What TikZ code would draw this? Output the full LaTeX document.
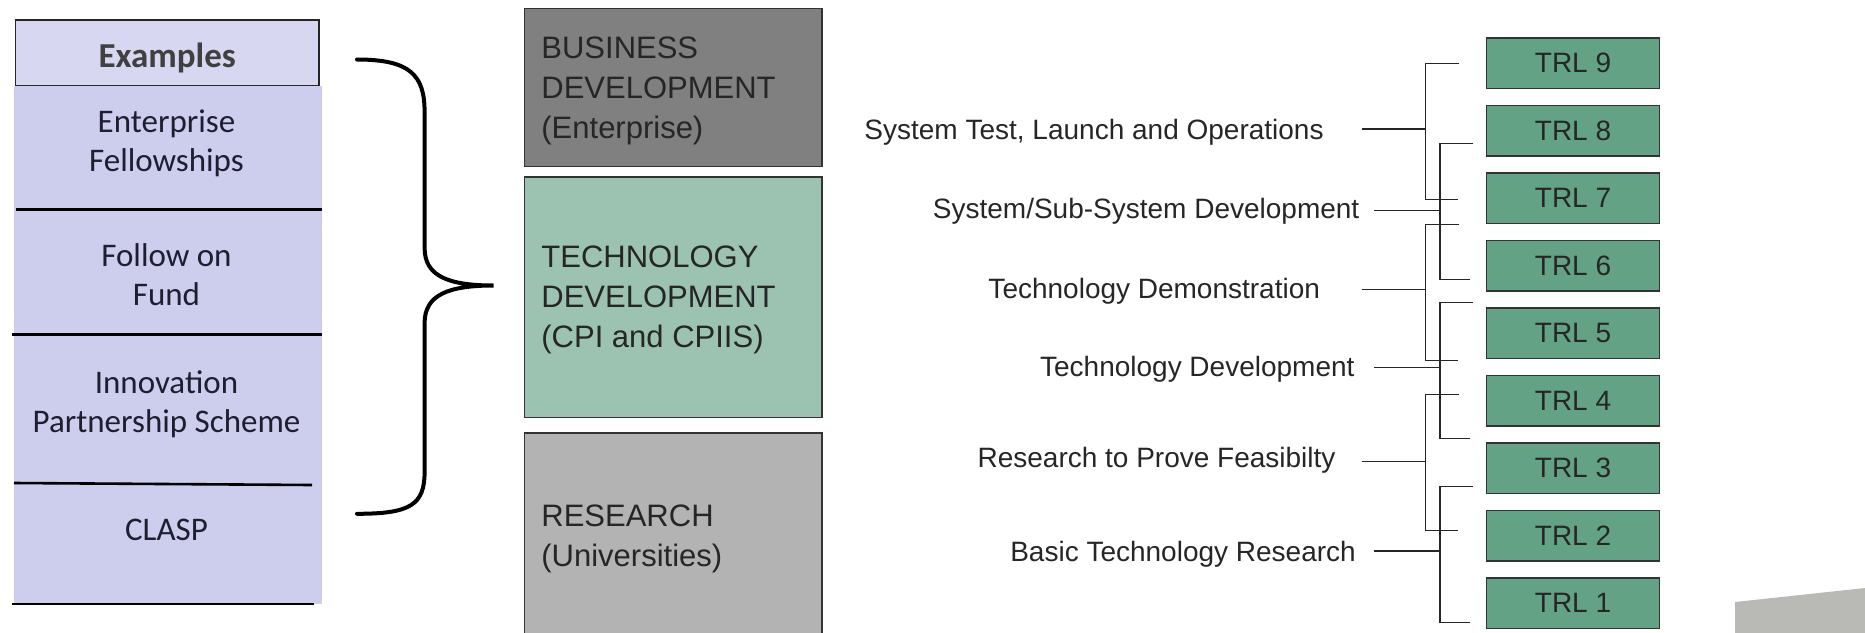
\documentclass[tikz,border=0pt]{standalone}
\usepackage{fontspec}
\setmainfont{Liberation Sans}
\newfontfamily\carlito{Carlito}
\definecolor{lavtop}{HTML}{D7D7F2}
\definecolor{lavbody}{HTML}{CDCDEE}
\definecolor{bizgray}{HTML}{808080}
\definecolor{techgreen}{HTML}{9CC3B1}
\definecolor{resgray}{HTML}{B3B3B3}
\definecolor{trlgreen}{HTML}{64A286}
\definecolor{cornergray}{HTML}{B9BAB5}
\definecolor{inkdark}{HTML}{262626}
\definecolor{navyink}{HTML}{1E1E30}
\begin{document}
\begin{tikzpicture}[x=1pt,y=-1pt,
  sepline/.style={draw=black, line width=2.6pt},
  coltext/.style={align=center, text=navyink, font=\carlito\fontsize{33}{39.3}\selectfont, inner sep=0pt},
  bigbox/.style={draw=black!80, line width=1.5pt, minimum width=297.4pt, outer sep=0pt},
  boxtext/.style={anchor=west, align=left, inner sep=0pt, font=\fontsize{31}{40}\selectfont, text=inkdark},
  trlbox/.style={draw=black!80, line width=1.3pt, fill=trlgreen, minimum width=173pt, minimum height=50.5pt, font=\fontsize{28}{34}\selectfont, text=inkdark, outer sep=0pt},
  lbl/.style={anchor=east, font=\fontsize{28}{34}\selectfont, text=inkdark, inner sep=0pt},
  conn/.style={draw=black!85, line width=1.5pt}
]
\useasboundingbox (0,0) rectangle (1865,632);

% ---------- left column ----------
\fill[lavbody] (14.3,85.6) rectangle (322.3,604);
\node[draw=black!85, line width=1.5pt, fill=lavtop, minimum width=303.3pt, minimum height=65.4pt, outer sep=0pt] (ex) at (167.2,52.9) {};
\node[font=\carlito\bfseries\fontsize{35}{40}\selectfont, text=black!75, inner sep=0pt] (ext) at (167.2,57.5) {Examples};
\draw[sepline] (15.5,209.3) -- (322,209.3);
\draw[sepline] (12,334.2) -- (322,334.2);
\draw[sepline] (14,483) -- (312,485);
\draw[sepline] (12,604) -- (314,604);
\node[coltext] (e1) at (166.5,143.5) {Enterprise\\Fellowships};
\node[coltext] (e2) at (166.5,274.5) {Follow on\\Fund};
\node[coltext] (e3) at (166.5,404.5) {Innovation\\Partnership Scheme};
\node[coltext] (e4) at (166.5,529.5) {CLASP};

% ---------- brace ----------
\draw[line width=4pt, line cap=round]
  (357,59.5) .. controls (410,59.5) and (424.6,75) .. (424.6,112)
  -- (424.6,248) .. controls (424.6,276) and (448,285.5) .. (493.6,285.5)
  .. controls (448,285.5) and (424.6,295) .. (424.6,323)
  -- (424.6,472) .. controls (424.6,505) and (410,513.8) .. (357,513.8);

% ---------- middle boxes ----------
\node[bigbox, fill=bizgray, minimum height=158.2pt] (biz) at (673.2,87.4) {};
\node[boxtext] (bizt) at ([xshift=16.7pt, yshift=-3.8pt] biz.west) {BUSINESS\\DEVELOPMENT\\(Enterprise)};
\node[bigbox, fill=techgreen, minimum height=240.3pt] (tech) at (673.2,297.35) {};
\node[boxtext] (techt) at ([xshift=16.7pt, yshift=-2.2pt] tech.west) {TECHNOLOGY\\DEVELOPMENT\\(CPI and CPIIS)};
\node[bigbox, fill=resgray, minimum height=205pt] (res) at (673.2,535.5) {};
\node[boxtext] (rest) at ([xshift=16.7pt, yshift=-3.5pt] res.west) {RESEARCH\\(Universities)};

% ---------- TRL boxes ----------
\foreach \n/\cy in {9/63.2,8/130.7,7/198.2,6/265.7,5/333.2,4/400.7,3/468.2,2/535.7,1/603.2}
  \node[trlbox] (trl\n) at (1573,\cy) {\raisebox{-1pt}{TRL \n}};

% ---------- labels ----------
\node[lbl] (l1) at (1323.8,132) {System Test, Launch and Operations};
\node[lbl] (l2) at (1359.5,211.5) {System/Sub-System Development};
\node[lbl] (l3) at (1320.2,291.5) {Technology Demonstration};
\node[lbl] (l4) at (1354.7,369.5) {Technology Development};
\node[lbl] (l5) at (1335.7,460.5) {Research to Prove Feasibilty};
\node[lbl] (l6) at (1356,554.5) {Basic Technology Research};

% ---------- brackets ----------
\foreach \i/\vx/\ty/\by/\iy/\sx/\ux/\dx in {
  1/1425.7/63.3/199.3/129/1361.9/1459/1457.7,
  2/1440/143.3/279.3/210.7/1373.8/1473.3/1470,
  3/1425.7/224.7/360.7/289.3/1361.9/1459/1457.7,
  4/1440/302.7/438.7/367.7/1373.8/1473.3/1470,
  5/1425.7/394.3/530.3/461.7/1361.9/1459/1457.7,
  6/1440/486.7/622.7/551/1373.8/1473.3/1470}{
  \coordinate (s\i) at (\sx,\iy);
  \coordinate (j\i) at (\vx,\iy);
  \coordinate (u\i) at (\ux,\ty);
  \coordinate (d\i) at (\dx,\by);
  \draw[conn] (u\i) -| (j\i) |- (d\i);
  \draw[conn] (s\i) -- (j\i);
}

% ---------- corner shape ----------
\fill[cornergray] (1735,640) -- (1735,602) -- (1865,588) -- (1865,640) -- cycle;
\end{tikzpicture}
\end{document}
